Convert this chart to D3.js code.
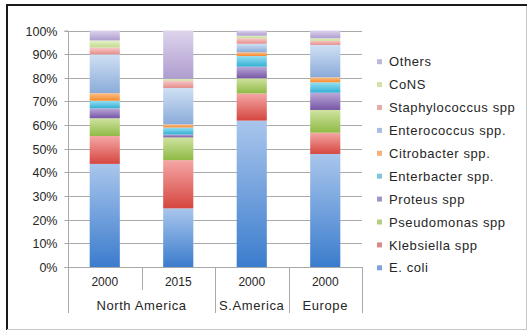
<!DOCTYPE html>
<html>
<head>
<meta charset="utf-8">
<script src="https://cdn.jsdelivr.net/npm/d3@7"></script>
<style>
  html, body { margin: 0; padding: 0; background: #fff; }
  svg { display: block; font-family: "Liberation Sans", Arial, sans-serif; }
</style>
</head>
<body>
<svg id="chart" width="529" height="331"></svg>
<script>
// Bar categories (year) and their region groups
const years = ["2000", "2015", "2000", "2000"];
const regions = ["North America", "S.America", "Europe"];
const regionSpans = [2, 1, 1];

// Share of isolates (%) per organism, one value per bar
const seriesNames = ["E. coli", "Klebsiella spp", "Pseudomonas spp", "Proteus spp",
  "Enterbacter spp.", "Citrobacter spp.", "Enterococcus spp.", "Staphylococcus spp", "CoNS", "Others"];
const eColi          = [43.6, 24.8, 61.9, 47.8];
const klebsiella     = [11.8, 20.4, 11.5,  9.0];
const pseudomonas    = [ 7.5,  9.6,  6.4,  9.6];
const proteus        = [ 4.2,  1.2,  4.9,  7.3];
const enterobacter   = [ 3.2,  3.0,  4.5,  4.4];
const citrobacter    = [ 3.2,  1.3,  1.6,  2.1];
const enterococcus   = [16.4, 15.4,  3.6, 13.7];
const staphylococcus = [ 2.9,  3.1,  2.3,  1.8];
const cons           = [ 3.0,  0.8,  1.1,  1.0];
const others         = [ 4.2, 20.4,  2.2,  3.3];
const yTicks = [0, 0.1, 0.2, 0.3, 0.4, 0.5, 0.6, 0.7, 0.8, 0.9, 1.0];

const seriesValues = [eColi, klebsiella, pseudomonas, proteus, enterobacter,
  citrobacter, enterococcus, staphylococcus, cons, others];

// Top/bottom gradient stops for each series
const gradTop = ["#a9c6ec", "#f4a7a6", "#cfe3a0", "#bcaad8", "#96dff2", "#fcc08a", "#d0e0f4", "#f8c9c8", "#e6f2cc", "#ded4ec"];
const gradBot = ["#3b7ccd", "#d6463f", "#8fba45", "#7656a6", "#34afd3", "#f68a2c", "#8aabd9", "#e38d8b", "#c2da8c", "#ae9dcf"];
const swatch  = ["#7fa3d6", "#d98a88", "#b3cf84", "#a393c4", "#7fc6dc", "#f5b07a", "#a9bde3", "#e6aaa8", "#d2e2a8", "#c0b5dc"];

const textColor = "#262626";
const svg = d3.select("#chart");

// gradients
const defs = svg.append("defs");
seriesNames.forEach((n, i) => {
  const g = defs.append("linearGradient").attr("id", "g" + i)
    .attr("x1", 0).attr("y1", 0).attr("x2", 0).attr("y2", 1);
  g.append("stop").attr("offset", "0%").attr("stop-color", gradTop[i]);
  g.append("stop").attr("offset", "100%").attr("stop-color", gradBot[i]);
});

// frame
svg.append("line").attr("x1", 6).attr("x2", 527).attr("y1", 5).attr("y2", 5)
  .attr("stroke", "#1a1a1a").attr("stroke-width", 2);
svg.append("line").attr("x1", 7).attr("x2", 7).attr("y1", 4).attr("y2", 330)
  .attr("stroke", "#1a1a1a").attr("stroke-width", 2);
svg.append("line").attr("x1", 526.5).attr("x2", 526.5).attr("y1", 6).attr("y2", 330)
  .attr("stroke", "#c8c8c8").attr("stroke-width", 1);
svg.append("line").attr("x1", 7).attr("x2", 527).attr("y1", 329.5).attr("y2", 329.5)
  .attr("stroke", "#c8c8c8").attr("stroke-width", 1);

const plotLeft = 68, plotRight = 362, plotTop = 30.5, plotBottom = 267;

const x = d3.scaleBand().domain(d3.range(years.length)).range([plotLeft, plotRight])
  .paddingInner(0.59).paddingOuter(0.295);
const y = d3.scaleLinear().domain([0, 1]).range([plotBottom, plotTop]);

// gridlines
const gridColor = "#a9a9a9";
svg.append("g").selectAll("line").data(yTicks.slice(1)).join("line")
  .attr("x1", plotLeft).attr("x2", plotRight)
  .attr("y1", d => Math.round(y(d)) + 0.5).attr("y2", d => Math.round(y(d)) + 0.5)
  .attr("stroke", gridColor).attr("stroke-width", 1);

// y axis
const yAxis = svg.append("g").attr("transform", `translate(${plotLeft + 0.5},0.5)`)
  .call(d3.axisLeft(y).tickValues(yTicks).tickFormat(d3.format(".0%")).tickSize(4).tickPadding(7));
yAxis.select(".domain").attr("stroke", gridColor).attr("d", `M-4,${y(1)}H0V${y(0)}H-4`);
yAxis.selectAll(".tick line").attr("stroke", gridColor);
yAxis.selectAll(".tick text").attr("fill", textColor).style("font-size", "12.5px")
  .style("font-family", "'Liberation Sans', Arial, sans-serif");
yAxis.selectAll(".tick").attr("transform", d => `translate(0,${Math.round(y(d))})`);

// stacked bars
const table = years.map((yr, j) => {
  const row = { idx: j };
  seriesNames.forEach((n, i) => { row[n] = seriesValues[i][j] / 100; });
  return row;
});
const stacked = d3.stack().keys(seriesNames)(table);

svg.append("g").selectAll("g").data(stacked).join("g")
  .attr("fill", (d, i) => `url(#g${i})`)
  .selectAll("rect").data(d => d).join("rect")
  .attr("x", d => x(d.data.idx))
  .attr("width", x.bandwidth())
  .attr("y", d => y(d[1]))
  .attr("height", d => y(d[0]) - y(d[1]));

// category axis
svg.append("line").attr("x1", plotLeft).attr("x2", plotRight)
  .attr("y1", plotBottom + 0.5).attr("y2", plotBottom + 0.5)
  .attr("stroke", gridColor);
const step = x.step();
// boundaries: inner year splits are short, region splits go through both rows
let cum = 0;
const regionEdges = [0];
regionSpans.forEach(s => { cum += s; regionEdges.push(cum); });
d3.range(years.length + 1).forEach(k => {
  const xx = Math.round(plotLeft + k * step) + 0.5;
  const full = regionEdges.includes(k);
  svg.append("line").attr("x1", xx).attr("x2", xx)
    .attr("y1", plotBottom).attr("y2", full ? 313 : 290).attr("stroke", gridColor);
});

svg.append("g").selectAll("text").data(years).join("text")
  .attr("x", (d, i) => x(i) + x.bandwidth() / 2)
  .attr("y", 286)
  .attr("text-anchor", "middle")
  .attr("fill", textColor).style("font-size", "12px")
  .text(d => d);

svg.append("g").selectAll("text").data(regions).join("text")
  .attr("x", (d, i) => plotLeft + (regionEdges[i] + regionEdges[i + 1]) / 2 * step)
  .attr("y", 310)
  .attr("text-anchor", "middle")
  .attr("fill", textColor).style("font-size", "13px").style("letter-spacing", "0.6px")
  .text(d => d);

// legend (top entry is the last series)
const legendItems = seriesNames.map((n, i) => ({ n, i })).reverse();
const lg = svg.append("g").selectAll("g").data(legendItems).join("g")
  .attr("transform", (d, k) => `translate(377,${61.7 + k * 22.9})`);
lg.append("rect").attr("x", 0).attr("y", -2.5).attr("width", 5).attr("height", 5)
  .attr("fill", d => swatch[d.i]);
lg.append("text").attr("x", 12).attr("dy", "0.36em")
  .attr("fill", textColor).style("font-size", "13px").style("letter-spacing", "0.6px")
  .text(d => d.n);
</script>
</body>
</html>
